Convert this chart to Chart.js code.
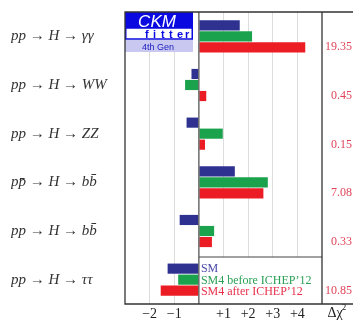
<!DOCTYPE html>
<html>
<head>
<meta charset="utf-8">
<script src="https://cdn.jsdelivr.net/npm/chart.js@4"></script>
<style>
  html, body { margin: 0; padding: 0; background: #fff; }
  #wrap { width: 353px; height: 320px; }
</style>
</head>
<body>
<div id="wrap"><canvas id="higgsCanvas" width="353" height="320"></canvas></div>
<script>
// channels, top to bottom
var channels = [
    'pp \u2192 H \u2192 \u03b3\u03b3',
    'pp \u2192 H \u2192 WW',
    'pp \u2192 H \u2192 ZZ',
    'pp\u0304 \u2192 H \u2192 bb\u0304',
    'pp \u2192 H \u2192 bb\u0304',
    'pp \u2192 H \u2192 \u03c4\u03c4'
];
var smValues     = [1.66, -0.30, -0.50, 1.46, -0.78, -1.27];
var sm4Before    = [2.16, -0.56, 0.97, 2.80, 0.62, -0.84];
var sm4After     = [4.32, 0.30, 0.25, 2.62, 0.53, -1.55];
var deltaChi2    = ['19.35', '0.45', '0.15', '7.08', '0.33', '10.85'];
var seriesNames  = ['SM', 'SM4 before ICHEP\u201912', 'SM4 after ICHEP\u201912'];
var tickLabels   = { '-2': '\u22122', '-1': '\u22121', '1': '+1', '2': '+2', '3': '+3', '4': '+4' };

var colBlue = '#2e3190', colGreen = '#1ba24c', colRed = '#ec1c24';
var serif = '"Liberation Serif", "DejaVu Serif", serif';

// frame, logo, legend box, delta chi2 column
var decorations = {
    id: 'decorations',
    beforeDatasetsDraw: function (chart) {
        var ctx = chart.ctx, a = chart.chartArea, x = chart.scales.x;
        var x0 = x.getPixelForValue(0);
        // legend box (white, covers grid)
        var top = 257;
        ctx.save();
        ctx.fillStyle = '#fff';
        ctx.fillRect(x0, top, a.right - x0, a.bottom - top);
        ctx.strokeStyle = '#444';
        ctx.lineWidth = 1.2;
        ctx.beginPath();
        ctx.moveTo(x0, top); ctx.lineTo(a.right, top);
        ctx.stroke();
        ctx.restore();
        // logo
        ctx.save();
        var lx = a.left, ly = a.top, lw = 68;
        ctx.fillStyle = '#0a0ae0';
        ctx.fillRect(lx, ly, lw, 16);
        ctx.fillStyle = '#fff';
        ctx.font = 'italic 17px "Liberation Sans", Arial, sans-serif';
        ctx.textAlign = 'center';
        ctx.textBaseline = 'alphabetic';
        ctx.fillText('CKM', lx + 32, ly + 15);
        ctx.fillStyle = '#fff';
        ctx.fillRect(lx, ly + 16, lw, 11);
        ctx.strokeStyle = '#0a0ae0';
        ctx.lineWidth = 1.5;
        ctx.strokeRect(lx + 0.75, ly + 16, lw - 1.5, 11);
        ctx.fillStyle = '#0a0ae0';
        ctx.font = 'bold 11px "Liberation Sans", Arial, sans-serif';
        ctx.textAlign = 'left';
        var letters = 'fitter'.split('');
        for (var i = 0; i < letters.length; i++) {
            ctx.fillText(letters[i], lx + 20 + i * 8, ly + 26);
        }
        ctx.fillStyle = '#c8c8f0';
        ctx.fillRect(lx, ly + 28, lw, 12);
        ctx.fillStyle = '#1a1ac0';
        ctx.font = '9px "Liberation Sans", Arial, sans-serif';
        ctx.textAlign = 'center';
        ctx.fillText('4th Gen', lx + 33, ly + 38);
        ctx.restore();
    },
    afterDraw: function (chart) {
        var ctx = chart.ctx, a = chart.chartArea, x = chart.scales.x, y = chart.scales.y;
        var x0 = x.getPixelForValue(0);
        ctx.save();
        // legend texts
        ctx.font = '12px ' + serif;
        ctx.textAlign = 'left';
        ctx.textBaseline = 'middle';
        var legendCols = ['#4a4aa8', '#2aa055', '#e8304a'];
        for (var i = 0; i < seriesNames.length; i++) {
            ctx.fillStyle = legendCols[i];
            ctx.fillText(seriesNames[i], x0 + 2, 269 + i * 11.5);
        }
        // zero line over everything
        ctx.strokeStyle = '#555';
        ctx.lineWidth = 1.3;
        ctx.beginPath();
        ctx.moveTo(x0, a.top); ctx.lineTo(x0, a.bottom);
        ctx.stroke();
        // frame
        ctx.strokeStyle = '#333';
        ctx.lineWidth = 1.3;
        ctx.beginPath();
        ctx.moveTo(chart.width + 5, a.top); ctx.lineTo(a.left, a.top);
        ctx.lineTo(a.left, a.bottom); ctx.lineTo(chart.width + 5, a.bottom);
        ctx.moveTo(a.right, a.top); ctx.lineTo(a.right, a.bottom);
        ctx.stroke();
        // delta chi2 column
        ctx.fillStyle = '#e0455a';
        ctx.font = '12px ' + serif;
        ctx.textAlign = 'right';
        ctx.textBaseline = 'middle';
        var step = (a.bottom - a.top) / channels.length;
        for (var j = 0; j < deltaChi2.length; j++) {
            var cy = y.getPixelForValue(j);
            ctx.fillText(deltaChi2[j], chart.width - 1, cy + step * 0.22);
        }
        // axis title
        ctx.fillStyle = '#222';
        ctx.font = '14px ' + serif;
        ctx.textAlign = 'center';
        ctx.textBaseline = 'middle';
        ctx.fillText('\u0394\u03c7', 335, a.bottom + 9);
        ctx.font = '9px ' + serif;
        ctx.fillText('2', 344, a.bottom + 4);
        ctx.restore();
    }
};

new Chart(document.getElementById('higgsCanvas'), {
    type: 'bar',
    data: {
        labels: channels,
        datasets: [
            { label: seriesNames[0], data: smValues, backgroundColor: colBlue },
            { label: seriesNames[1], data: sm4Before, backgroundColor: colGreen },
            { label: seriesNames[2], data: sm4After, backgroundColor: colRed }
        ]
    },
    options: {
        indexAxis: 'y',
        responsive: false,
        animation: false,
        layout: { padding: { left: 11, right: 31, top: 10, bottom: 0 } },
        categoryPercentage: 0.68,
        barPercentage: 0.92,
        plugins: { legend: { display: false }, tooltip: { enabled: false } },
        scales: {
            x: {
                min: -3,
                max: 5,
                afterFit: function (s) { s.height = 16; },
                border: { display: false },
                grid: {
                    drawTicks: false,
                    color: function (c) {
                        var v = c.tick ? c.tick.value : null;
                        if (v === -3 || v === 5 || v === 0) return 'rgba(0,0,0,0)';
                        return '#dcdcdc';
                    },
                    lineWidth: 1
                },
                ticks: {
                    stepSize: 1,
                    padding: 2,
                    color: '#222',
                    font: { family: serif, size: 14 },
                    callback: function (v) { return tickLabels[String(v)] || ''; }
                }
            },
            y: {
                afterFit: function (s) { s.width = 114; },
                border: { display: false },
                grid: { display: false },
                ticks: {
                    crossAlign: 'far',
                    color: '#333',
                    font: { family: serif, size: 15, style: 'italic' }
                }
            }
        }
    },
    plugins: [decorations]
});
</script>
</body>
</html>
